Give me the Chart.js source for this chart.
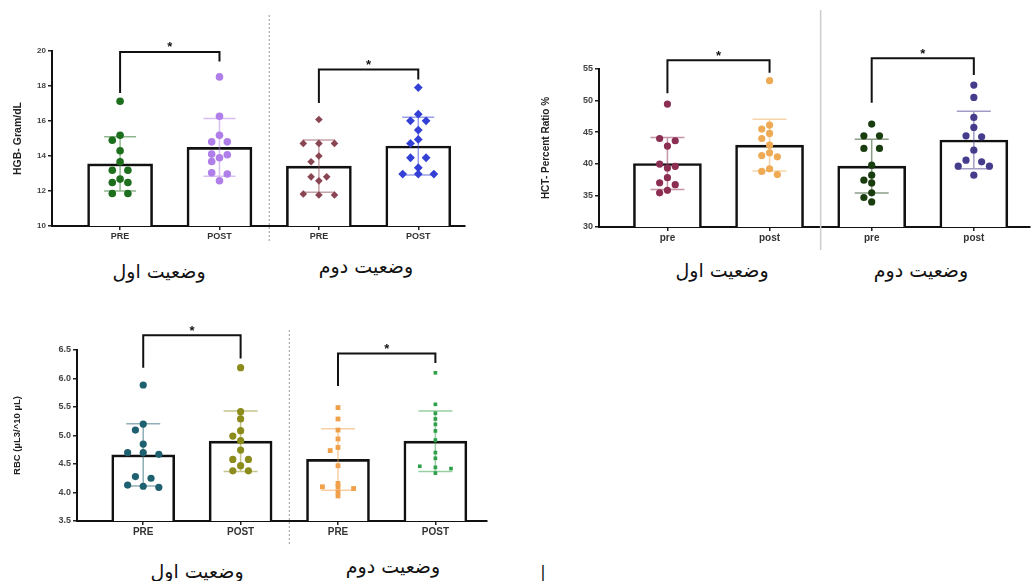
<!DOCTYPE html>
<html><head><meta charset="utf-8">
<script src="https://cdn.jsdelivr.net/npm/chart.js@4"></script>
<style>
html,body{margin:0;padding:0;background:#fff;}
body{width:1034px;height:581px;position:relative;overflow:hidden;}
.fa{position:absolute;font-family:'DejaVu Sans',sans-serif;font-size:19px;color:#111;white-space:nowrap;direction:rtl;transform:translate(-50%,-50%);line-height:1;}
</style>
</head><body>
<script>
// ---------- shared labels ----------
const xLabelsUpper = ['PRE','POST','PRE','POST'];
const xLabelsLower = ['pre','post','pre','post'];
const stateLabels = ['وضعیت اول','وضعیت دوم'];

// ---------- HGB panel ----------
const hgbTicks = [10,12,14,16,18,20];
const hgbMeans = [13.55,14.49,13.42,14.57];
const hgbSD = [1.55,1.65,1.49,1.65];
const hgbPre1 = [17.13,15.19,14.9,14.3,13.67,13.19,13.19,12.68,12.49,12.49,11.86,11.86];
const hgbPost1 = [18.52,16.27,15.19,14.81,14.81,14.11,14.07,13.90,13.69,13.04,12.97,12.59];
const hgbPre2 = [16.09,14.72,14.72,14.72,14.0,13.67,12.81,12.81,12.58,11.83,11.77,11.77];
const hgbPost2 = [17.91,16.39,16.01,16.01,15.48,14.95,14.72,13.9,13.9,13.33,12.97,12.97,12.97];
const hgbBracketTop = [19.95,18.94];
const hgbBracketLeftEnd = [17.6,17.03];
const hgbBracketRightEnd = [19.4,18.37];

// ---------- HCT panel ----------
const hctTicks = [30,35,40,45,50,55];
const hctMeans = [40.05,42.95,39.63,43.75];
const hctSD = [4.1,4.1,4.25,4.55];
const hctPre1 = [49.45,44.0,43.65,42.8,39.95,39.6,39.35,37.8,37.0,36.7,35.8,35.4];
const hctPost1 = [53.15,46.13,45.5,44.8,44.0,42.95,41.75,41.3,41.1,39.2,38.8,38.3];
const hctPre2 = [46.28,44.43,44.43,42.43,42.43,39.79,38.2,37.41,36.98,35.4,34.67,33.97];
const hctPost2 = [52.46,50.5,47.34,45.76,44.43,44.27,42.16,40.58,40.31,39.63,39.63,38.2];
const hctBracketTop = [56.4,56.7];
const hctBracketLeftEnd = [51.15,49.66];
const hctBracketRightEnd = [54.4,54.05];

// ---------- RBC panel ----------
const rbcTicks = [3.5,4.0,4.5,5.0,5.5,6.0,6.5];
const rbcMeans = [4.66,4.90,4.58,4.90];
const rbcSD = [0.545,0.53,0.54,0.53];
const rbcPre1 = [5.886,5.2,5.096,4.85,4.70,4.70,4.67,4.28,4.25,4.13,4.11,4.09];
const rbcPost1 = [6.19,5.418,5.29,5.085,4.99,4.91,4.745,4.58,4.58,4.47,4.38,4.38];
const rbcPre2 = [5.49,5.29,5.096,4.94,4.79,4.735,4.47,4.16,4.10,4.10,4.07,4.01,3.94];
const rbcPost2 = [6.10,5.547,5.39,5.29,5.196,5.08,4.92,4.70,4.60,4.46,4.44,4.42,4.34];
const rbcBracketTop = [6.76,6.44];
const rbcBracketLeftEnd = [6.19,5.87];
const rbcBracketRightEnd = [6.35,6.27];

// ---------- helpers ----------
// simple beeswarm: spreads points of similar value side by side (pixel offsets)
function swarm(vals, pxY, step, d) {
  const idx = vals.map((v,i)=>i).sort((a,b)=>vals[b]-vals[a]);
  const offs = new Array(vals.length).fill(0);
  const placed = [];
  let i = 0;
  while (i < idx.length) {
    const row = [idx[i]]; let j = i+1;
    while (j < idx.length && (vals[idx[i]]-vals[idx[j]])*pxY < 2.5) { row.push(idx[j]); j++; }
    const n = row.length, cands = [];
    if (n === 1) cands.push([0],[-step],[step],[-2*step],[2*step]);
    else [1,1.5,2].forEach(m=>cands.push(row.map((_,k)=>(k-(n-1)/2)*2*step*m)));
    let best = null, bestScore = Infinity;
    for (const c of cands) {
      let score = 0;
      row.forEach((id,k)=>placed.forEach(p=>{
        const dx = p.x-c[k], dy = (p.v-vals[id])*pxY;
        const dist = Math.sqrt(dx*dx+dy*dy);
        if (dist < d) score += (d-dist);
      }));
      if (score < bestScore - 0.01) { bestScore = score; best = c; }
      if (score === 0) break;
    }
    row.forEach((id,k)=>{ offs[id]=best[k]; placed.push({x:best[k], v:vals[id]}); });
    i = j;
  }
  return offs;
}
function rgba(hex,a){const n=parseInt(hex.slice(1),16);return `rgba(${n>>16},${(n>>8)&255},${n&255},${a})`;}

function annotPlugin(p) {
  return {
    id: 'annot',
    afterDatasetDraw(chart, args) {
      if (args.index !== 0) return;
      const ctx = chart.ctx, xs = chart.scales.x, ys = chart.scales.y;
      p.means.forEach((m,i)=>{
        const x = xs.getPixelForValue(i);
        const yt = ys.getPixelForValue(m+p.sd[i]), yb = ys.getPixelForValue(m-p.sd[i]);
        ctx.save();
        ctx.strokeStyle = rgba(p.colors[i],0.5); ctx.lineWidth = 1.5;
        ctx.beginPath();
        ctx.moveTo(x,yt); ctx.lineTo(x,yb);
        ctx.moveTo(x-p.cap,yt); ctx.lineTo(x+p.cap,yt);
        ctx.moveTo(x-p.cap,yb); ctx.lineTo(x+p.cap,yb);
        ctx.stroke(); ctx.restore();
      });
    },
    afterDraw(chart) {
      const ctx = chart.ctx, xs = chart.scales.x, ys = chart.scales.y;
      ctx.save();
      ctx.strokeStyle = p.sepColor; ctx.lineWidth = p.sepWidth; ctx.setLineDash(p.sepDash);
      const sx = xs.getPixelForValue(1.5);
      ctx.beginPath(); ctx.moveTo(sx,p.sepTop); ctx.lineTo(sx,p.sepBottom); ctx.stroke();
      ctx.restore();
      for (let g=0; g<2; g++) {
        const xl = xs.getPixelForValue(2*g), xr = xs.getPixelForValue(2*g+1);
        const yt = ys.getPixelForValue(p.brTop[g]);
        const yl = ys.getPixelForValue(p.brL[g]), yr = ys.getPixelForValue(p.brR[g]);
        ctx.save();
        ctx.strokeStyle = '#111'; ctx.lineWidth = 2;
        ctx.beginPath(); ctx.moveTo(xl,yl); ctx.lineTo(xl,yt); ctx.lineTo(xr,yt); ctx.lineTo(xr,yr); ctx.stroke();
        ctx.fillStyle = '#111'; ctx.font = 'bold 13px "Liberation Sans", Arial';
        ctx.textAlign = 'center'; ctx.textBaseline = 'alphabetic';
        ctx.fillText('*', (xl+xr)/2, yt-0.5);
        ctx.restore();
      }
    }
  };
}

function makeChart(p) {
  const cv = document.createElement('canvas');
  cv.width = p.w; cv.height = p.h;
  cv.style.cssText = `position:absolute;left:${p.left}px;top:${p.top}px;width:${p.w}px;height:${p.h}px`;
  document.body.appendChild(cv);
  const A = p.area;
  const pxX = (A.r-A.l)/(p.xmax-p.xmin);
  const pxY = (A.b-A.t)/(p.ymax-p.ymin);
  const datasets = [{
    type:'bar', data: p.means.map((m,i)=>({x:i,y:m})),
    backgroundColor:'#ffffff', borderColor:'#111111', borderWidth:2.6,
    barThickness:p.barW, borderSkipped:'bottom', order:10
  }];
  p.groups.forEach((vals,gi)=>{
    const offs = swarm(vals, pxY, p.step, p.dot[gi]);
    datasets.push({
      type:'scatter', data: vals.map((v,k)=>({x: gi + offs[k]/pxX, y: v})),
      pointRadius:p.radius[gi], pointStyle:p.styles[gi],
      backgroundColor:p.colors[gi], borderColor:p.colors[gi], borderWidth:0, order:0
    });
  });
  const tickFont = (size)=>({family:'"Liberation Sans", Arial', weight:'bold', size});
  new Chart(cv, {
    type:'bar',
    data:{datasets},
    options:{
      responsive:false, animation:false,
      layout:{padding:{left:0, top:A.t, right:p.w-A.r, bottom:0}},
      plugins:{legend:{display:false}, tooltip:{enabled:false}},
      scales:{
        x:{
          type:'linear', min:p.xmin, max:p.xmax, offset:false,
          afterBuildTicks: s=>{ s.ticks = [0,1,2,3].map(v=>({value:v})); },
          afterFit: s=>{ s.height = p.h - A.b; },
          ticks:{callback: v=>p.xLabels[v], font:tickFont(p.xFont), color:'#333', padding:1, autoSkip:false, maxRotation:0},
          grid:{offset:false, drawOnChartArea:false, drawTicks:true, tickLength:4, color:'#222', lineWidth:1.5},
          border:{display:true, color:'#111', width:2}
        },
        y:{
          type:'linear', min:p.ymin, max:p.ymax, beginAtZero:false,
          afterBuildTicks: s=>{ s.ticks = p.yTicks.map(v=>({value:v})); },
          afterFit: s=>{ s.width = A.l; },
          ticks:{callback: v=>p.yFmt(v), font:tickFont(p.yFont), color:'#444', padding:2},
          grid:{offset:false, drawOnChartArea:false, drawTicks:true, tickLength:4, color:'#222', lineWidth:1.5},
          border:{display:true, color:'#111', width:2},
          title:{display:true, text:p.yTitle, color:'#222',
                 font:{family:'"Liberation Sans", Arial', weight:'bold', size:p.titleSize},
                 padding:{top:p.titlePad, bottom:0}}
        }
      }
    },
    plugins:[annotPlugin(p)]
  });
}

function addText(txt, x, y, size) {
  const d = document.createElement('div');
  d.className = 'fa'; d.textContent = txt;
  d.style.left = x+'px'; d.style.top = y+'px';
  if (size) d.style.fontSize = size+'px';
  document.body.appendChild(d);
}

// ---------- panels ----------
makeChart({
  left:0, top:0, w:470, h:250, area:{l:52,t:51,r:465,b:226},
  xmin:-0.685, xmax:3.47, ymin:10, ymax:20, yTicks:hgbTicks, yFmt:v=>String(v),
  xLabels:xLabelsUpper, xFont:9, yFont:8, yTitle:'HGB- Gram/dL', titleSize:10.5, titlePad:12,
  means:hgbMeans, sd:hgbSD, groups:[hgbPre1,hgbPost1,hgbPre2,hgbPost2],
  colors:['#1d6e1d','#b07ee8','#8a4553','#3340d6'],
  styles:['circle','circle','rectRot','rectRot'], radius:[3.8,3.8,3.8,4.4],
  barW:65, step:7.8, dot:[6.5,6.5,6.5,6.5], cap:16,
  brTop:hgbBracketTop, brL:hgbBracketLeftEnd, brR:hgbBracketRightEnd,
  sepColor:'#9a9a9a', sepWidth:1, sepDash:[2,2], sepTop:15, sepBottom:243
});
makeChart({
  left:540, top:0, w:494, h:250, area:{l:59,t:69,r:490,b:227},
  xmin:-0.67, xmax:3.55, ymin:30, ymax:55, yTicks:hctTicks, yFmt:v=>String(v),
  xLabels:xLabelsLower, xFont:10, yFont:9, yTitle:'HCT- Percent Ratio %', titleSize:10, titlePad:0,
  means:hctMeans, sd:hctSD, groups:[hctPre1,hctPost1,hctPre2,hctPost2],
  colors:['#8b2e52','#eeaa55','#1a3d10','#463c8c'],
  styles:['circle','circle','circle','circle'], radius:[3.6,3.6,3.6,3.6],
  barW:68, step:7.8, dot:[6.5,6.5,6.5,6.5], cap:17,
  brTop:hctBracketTop, brL:hctBracketLeftEnd, brR:hctBracketRightEnd,
  sepColor:'#cccccc', sepWidth:1.5, sepDash:[], sepTop:10, sepBottom:250
});
makeChart({
  left:0, top:300, w:495, h:250, area:{l:77,t:50,r:487,b:221},
  xmin:-0.68, xmax:3.53, ymin:3.5, ymax:6.5, yTicks:rbcTicks, yFmt:v=>v.toFixed(1),
  xLabels:xLabelsUpper, xFont:10, yFont:9, yTitle:'RBC (µL3/^10 µL)', titleSize:9.5, titlePad:12,
  means:rbcMeans, sd:rbcSD, groups:[rbcPre1,rbcPost1,rbcPre2,rbcPost2],
  colors:['#1f6070','#8c8c1c','#f0a04b','#2fa04a'],
  styles:['circle','circle','rect','rect'], radius:[3.6,3.6,3.4,2.6],
  barW:63, step:7.8, dot:[6.5,6.5,3.5,3], cap:17,
  brTop:rbcBracketTop, brL:rbcBracketLeftEnd, brR:rbcBracketRightEnd,
  sepColor:'#9a9a9a', sepWidth:1, sepDash:[2,2], sepTop:30, sepBottom:245
});

// ---------- state (group) captions ----------
addText(stateLabels[0], 159, 271);
addText(stateLabels[1], 366, 266);
addText(stateLabels[0], 722, 270);
addText(stateLabels[1], 921, 270);
addText(stateLabels[0], 197, 571);
addText(stateLabels[1], 393, 566);
addText('|', 543, 572, 16);
</script>
</body></html>
